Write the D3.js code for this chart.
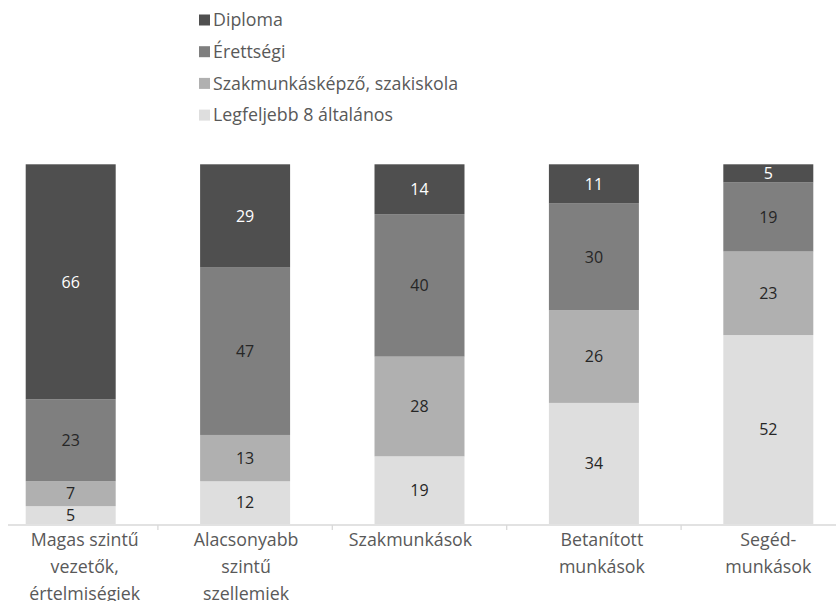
<!DOCTYPE html>
<html>
<head>
<meta charset="utf-8">
<script src="https://cdn.jsdelivr.net/npm/d3@7"></script>
<style>
  body { margin: 0; background: #fff; }
  svg { display: block; font-family: "Open Sans", sans-serif; }
</style>
</head>
<body>
<svg width="836" height="601"></svg>
<script>
// categories (x axis) and their wrapped labels
const categories = ["Magas", "Alacsonyabb", "Szakmunkások", "Betanított", "Segéd"];
const tickLabels = [
  ["Magas szintű", "vezetők,", "értelmiségiek"],
  ["Alacsonyabb", "szintű", "szellemiek"],
  ["Szakmunkások"],
  ["Betanított", "munkások"],
  ["Segéd-", "munkások"]
];

// series, from bottom to top of each bar
const seriesNames = ["Legfeljebb 8 általános", "Szakmunkásképző, szakiskola", "Érettségi", "Diploma"];
const legfeljebb8 = [5, 12, 19, 34, 52];
const szakmunkas = [7, 13, 28, 26, 23];
const erettsegi = [23, 47, 40, 30, 19];
const diploma = [66, 29, 14, 11, 5];

const colors = ["#dedede", "#b0b0b0", "#7f7f7f", "#4f4f4f"];
const labelColors = ["#262626", "#262626", "#262626", "#ffffff"];
// az Excel a kategóriafeliratokat kicsit elcsúsztatja
const tickShift = [14, 1, -9, 8, 0];

const svg = d3.select("svg");
const seriesValues = [legfeljebb8, szakmunkas, erettsegi, diploma];

// 100%-os halmozott oszlopok: minden oszlopot a saját összegére normálunk
const rows = categories.map((c, i) => {
  const row = { cat: c };
  const total = d3.sum(seriesValues, s => s[i]);
  seriesNames.forEach((n, k) => { row[n] = seriesValues[k][i] / total; });
  return row;
});
const stacked = d3.stack().keys(seriesNames)(rows);

const x = d3.scaleBand()
  .domain(categories)
  .range([-16.5, 855.5])
  .paddingInner(0.484)
  .paddingOuter(0.242);

const y = d3.scaleLinear().domain([0, 1]).range([524, 164.3]);

const layers = svg.append("g")
  .selectAll("g")
  .data(stacked)
  .join("g")
  .attr("fill", (d, k) => colors[k]);

layers.selectAll("rect")
  .data(d => d)
  .join("rect")
  .attr("x", d => x(d.data.cat))
  .attr("width", x.bandwidth())
  .attr("y", d => y(d[1]))
  .attr("height", d => y(d[0]) - y(d[1]));

// data labels
layers.each(function (layer, k) {
  d3.select(this).selectAll("text")
    .data(layer)
    .join("text")
    .attr("x", d => x(d.data.cat) + x.bandwidth() / 2)
    .attr("y", d => (y(d[0]) + y(d[1])) / 2)
    .attr("dy", "0.36em")
    .attr("text-anchor", "middle")
    .attr("font-size", 16)
    .attr("fill", labelColors[k])
    .text((d, i) => seriesValues[k][i]);
});

// x axis: line, ticks between categories, wrapped labels
const axisY = 525;
svg.append("line")
  .attr("x1", 8).attr("x2", 836)
  .attr("y1", axisY).attr("y2", axisY)
  .attr("stroke", "#d9d9d9").attr("stroke-width", 1.3);

const step = x.step();
svg.append("g")
  .selectAll("line")
  .data(categories.slice(0, -1))
  .join("line")
  .attr("x1", d => x(d) + x.bandwidth() + (step - x.bandwidth()) / 2)
  .attr("x2", d => x(d) + x.bandwidth() + (step - x.bandwidth()) / 2)
  .attr("y1", axisY).attr("y2", axisY + 5)
  .attr("stroke", "#d9d9d9").attr("stroke-width", 1.3);

const ticks = svg.append("g")
  .selectAll("text")
  .data(categories)
  .join("text")
  .attr("y", 545.5)
  .attr("text-anchor", "middle")
  .attr("font-size", 17.8)
  .attr("fill", "#595959");

ticks.each(function (d, i) {
  d3.select(this).selectAll("tspan")
    .data(tickLabels[i])
    .join("tspan")
    .attr("x", x(d) + x.bandwidth() / 2 + tickShift[i])
    .attr("dy", (t, j) => j === 0 ? 0 : 27)
    .text(t => t);
});

// legend (top series first)
const legendItems = seriesNames.slice().reverse();
const legendColors = colors.slice().reverse();
const legend = svg.append("g")
  .selectAll("g")
  .data(legendItems)
  .join("g")
  .attr("transform", (d, i) => `translate(199, ${20 + i * 31.7})`);

legend.append("rect")
  .attr("x", 0).attr("y", -5.5)
  .attr("width", 11).attr("height", 11)
  .attr("fill", (d, i) => legendColors[i]);

legend.append("text")
  .attr("x", 14)
  .attr("dy", "0.35em")
  .attr("font-size", 17.8)
  .attr("fill", "#595959")
  .text(d => d);
</script>
</body>
</html>
